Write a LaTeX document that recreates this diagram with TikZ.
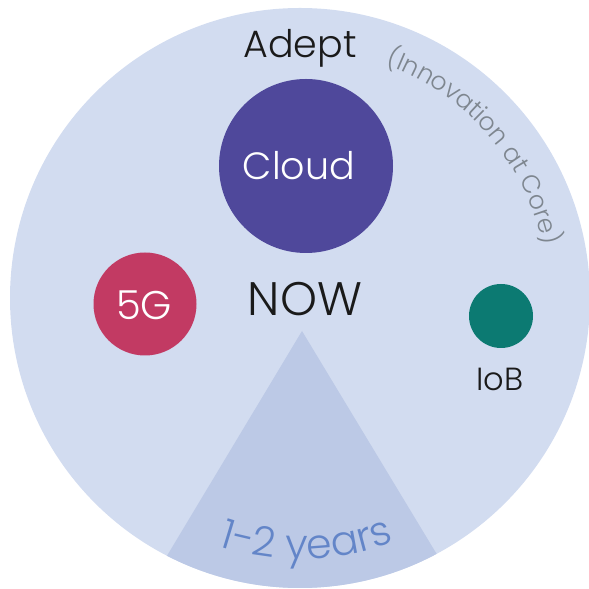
\documentclass[tikz,border=0pt]{standalone}
\usepackage{fontspec}
\setmainfont{Poppins}[UprightFont=* Light]
\usetikzlibrary{decorations.text}
\definecolor{bgc}{HTML}{D2DCF0}
\definecolor{tric}{HTML}{BCC9E6}
\definecolor{cloudc}{HTML}{4F489B}
\definecolor{fivegc}{HTML}{C23A63}
\definecolor{iobc}{HTML}{0C7A72}
\definecolor{grayc}{HTML}{7E868F}
\definecolor{bluec}{HTML}{6385C8}
\definecolor{darkc}{HTML}{1A1A1A}
\begin{document}
\begin{tikzpicture}[x=1pt,y=1pt,
  bubble/.style={circle,inner sep=0pt,draw=none},
  lbl/.style={inner sep=0pt,anchor=base,text=darkc}]
\useasboundingbox (0,0) rectangle (589,589);
\clip (0,0) rectangle (589,589);
\coordinate (c) at (300,291);
\fill[bgc] (c) circle[radius=290];
\begin{scope}
  \clip (c) circle[radius=290];
  \coordinate (apex) at (302,258);
  \coordinate (bl) at (117,-50);
  \coordinate (br) at (488,-50);
  \fill[tric] (apex) -- (bl) -- (br) -- cycle;
\end{scope}
\node[bubble,fill=cloudc,minimum size=174pt] (cloud) at (306,423) {};
\node[bubble,fill=fivegc,minimum size=103pt] (fiveg) at (145,285) {};
\node[bubble,fill=iobc,minimum size=64pt] (iob) at (501,273) {};
\node[lbl] (adept) at (300,531) {\fontsize{38}{38}\selectfont Adept};
\node[lbl,text=white] (cloudt) at (299,409) {\fontsize{38}{38}\selectfont Cloud};
\node[lbl] (now) at (305,273) {\fontsize{47}{47}\selectfont NOW};
\node[lbl,text=white] (fivegt) at (144,269) {\fontsize{40}{40}\selectfont 5G};
\node[lbl] (iobt) at (500,198) {\fontsize{32}{32}\selectfont IoB};
\path[decorate,decoration={text along path,text align=center,
  text={|\fontsize{25}{25}\selectfont\color{grayc}|(Innovation at Core)}}]
  (c) ++(74:249) arc[start angle=74,end angle=8,radius=249];
\path[decorate,decoration={text along path,text align=center,
  text={|\fontsize{41}{41}\selectfont\color{bluec}|1-2 years}}]
  (c) ++(-120:261) arc[start angle=-120,end angle=-57,radius=261];
\end{tikzpicture}
\end{document}
